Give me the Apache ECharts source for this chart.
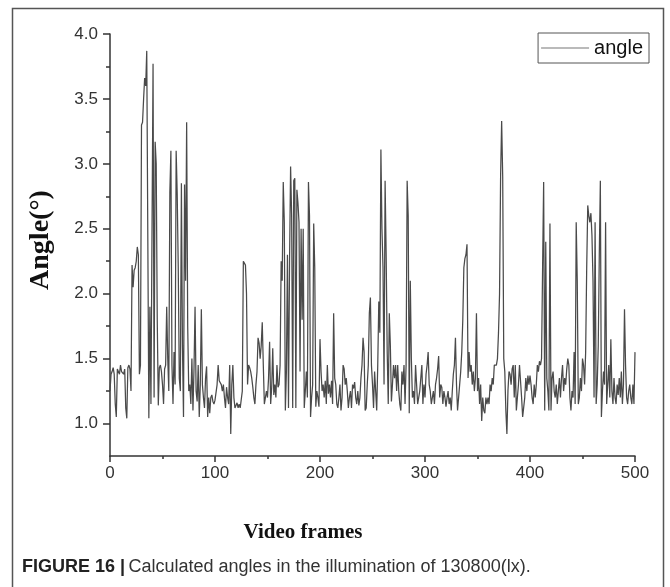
<!DOCTYPE html>
<html>
<head>
<meta charset="utf-8">
<script src="https://cdn.jsdelivr.net/npm/echarts@6/dist/echarts.min.js"></script>
<style>
html,body{margin:0;padding:0;background:#fff;}
#c{width:670px;height:587px;}
</style>
</head>
<body>
<div id="c"></div>
<script>
// Angle values (degrees) per video frame, frames 0..500
const angle000 = [1.25,1.38,1.4,1.43,1.38,1.15,1.05,1.42,1.42,1.38,1.45,1.4,1.4,1.38,1.42,1.12,1.04,1.43,1.45,1.42,1.25,2.22,2.05,2.18,2.2,2.25,2.36,2.3,1.38,1.45,3.3,3.32,3.5,3.66,3.6,3.87,3.86,1.04,1.9,1.15,1.15,3.77,1.2,3.17,3.0,1.8,1.14,1.43,1.45,1.4];
const angle050 = [1.3,1.15,1.42,1.45,1.9,1.5,1.25,2.78,3.1,1.45,1.15,1.55,1.3,3.1,2.77,2.2,1.35,1.25,2.85,1.6,1.05,2.84,2.1,3.32,1.75,1.25,1.3,1.15,1.5,1.1,1.42,1.9,1.25,1.17,1.45,1.05,1.3,1.88,1.3,1.2,1.12,1.35,1.44,1.05,1.2,1.08,1.2,1.22,1.17,1.15];
const angle100 = [1.18,1.17,1.3,1.45,1.33,1.32,1.3,1.25,1.3,1.2,1.12,1.28,1.2,1.15,1.45,0.92,1.3,1.45,1.2,1.12,1.13,1.16,1.12,1.15,1.12,1.12,1.25,2.25,2.25,2.22,2.0,1.3,1.45,1.43,1.4,1.35,1.28,1.2,1.15,1.3,1.4,1.66,1.62,1.5,1.6,1.78,1.45,1.15,1.2,1.25];
const angle150 = [1.2,1.35,1.63,1.15,1.28,1.58,1.22,1.3,1.2,1.45,1.28,1.3,1.45,2.25,2.1,2.86,2.55,1.1,1.4,2.3,1.12,2.24,2.98,2.6,1.12,2.87,2.89,1.12,2.8,2.7,2.55,1.4,2.5,1.8,2.5,1.12,1.25,1.4,1.2,2.86,2.6,1.05,1.2,1.3,2.54,2.2,1.13,1.25,1.2,1.13];
const angle200 = [1.65,1.4,1.25,1.3,1.2,1.33,1.15,1.45,1.23,1.3,1.2,1.33,1.15,1.85,1.35,1.3,1.15,1.12,1.2,1.3,1.1,1.2,1.45,1.42,1.3,1.35,1.25,1.12,1.2,1.25,1.12,1.3,1.27,1.32,1.2,1.15,1.25,1.14,1.2,1.35,1.45,1.66,1.55,1.1,1.12,1.3,1.45,1.85,1.97,1.45];
const angle250 = [1.3,1.12,1.4,1.25,1.1,1.45,1.94,1.7,3.11,2.5,2.2,1.3,2.87,2.3,1.55,1.15,1.85,1.6,1.17,1.3,1.45,1.35,1.45,1.25,1.45,1.25,1.15,1.1,1.4,1.3,1.45,1.15,1.45,2.87,2.6,1.08,2.1,1.5,1.2,1.25,1.15,1.45,1.3,1.15,1.2,1.25,1.35,1.45,1.15,1.3];
const angle300 = [1.2,1.38,1.45,1.55,1.3,1.25,1.15,1.2,1.25,1.15,1.3,1.35,1.42,1.52,1.2,1.3,1.28,1.15,1.25,1.2,1.13,1.2,1.25,1.15,1.2,1.1,1.25,1.38,1.45,1.66,1.3,1.1,1.2,1.3,1.4,1.55,1.8,2.2,2.27,2.3,2.38,1.35,1.55,1.4,1.45,1.3,1.4,1.25,1.35,1.85];
const angle350 = [1.25,1.35,1.15,1.3,1.02,1.2,1.1,1.08,1.2,1.15,1.2,1.15,1.3,1.25,1.35,1.3,1.45,1.45,1.45,1.5,1.7,2.0,2.9,3.33,2.9,1.5,1.4,1.1,0.92,1.25,1.4,1.38,1.3,1.42,1.45,1.2,1.45,1.1,1.2,1.3,1.45,1.45,1.2,1.05,1.05,1.2,1.35,1.25,1.37,1.3];
const angle400 = [1.37,1.3,1.2,1.15,1.3,1.2,1.3,1.45,1.4,1.48,1.45,1.5,2.2,2.86,1.1,2.4,1.35,1.25,1.1,2.54,1.1,1.35,1.4,1.25,1.2,1.3,1.15,1.25,1.35,1.2,1.35,1.45,1.25,1.35,1.3,1.42,1.5,1.45,1.2,1.1,1.25,1.2,1.55,1.15,2.55,2.1,1.15,1.2,1.35,1.25];
const angle450 = [1.5,1.45,1.3,1.55,2.2,2.68,2.6,2.55,2.62,2.45,2.1,1.2,2.55,1.15,1.3,1.6,2.3,2.87,1.05,1.25,1.4,1.3,2.55,1.15,1.3,1.45,1.2,1.65,1.25,1.15,1.35,1.2,1.15,1.3,1.22,1.35,1.2,1.4,1.15,1.3,1.88,1.45,1.2,1.15,1.25,1.3,1.2,1.15,1.3,1.15,1.55];

const angles = [].concat(angle000, angle050, angle100, angle150, angle200, angle250, angle300, angle350, angle400, angle450);
const frames = angles.map((_, i) => i);

const xTicks = [0, 100, 200, 300, 400, 500];
const yMajorTicks = [1.0, 1.5, 2.0, 2.5, 3.0, 3.5, 4.0];
const yMinorTicks = [1.25, 1.75, 2.25, 2.75, 3.25, 3.75];

const seriesName = 'angle';
const xTitle = 'Video frames';
const yTitle = 'Angle(°)';
const captionBold = 'FIGURE 16 |';
const captionText = 'Calculated angles in the illumination of 130800(lx).';

const chart = echarts.init(document.getElementById('c'), null, {renderer: 'canvas'});
const axisColor = '#333';
const labelFont = 'Liberation Sans, Arial, sans-serif';

chart.setOption({
  animation: false,
  backgroundColor: '#fff',
  grid: {left: 110, right: 35, top: 34, bottom: 131, containLabel: false},
  legend: {
    data: [seriesName],
    top: 33, right: 21,
    icon: 'rect', itemWidth: 48, itemHeight: 1.2, itemGap: 0,
    itemStyle: {color: '#777'},
    textStyle: {fontSize: 20, color: '#111', fontFamily: labelFont, padding: [0, 0, 0, 0]},
    borderColor: '#555', borderWidth: 1, borderRadius: 0,
    padding: [5, 6, 5, 3]
  },
  xAxis: {
    type: 'value', min: xTicks[0], max: xTicks[xTicks.length - 1], interval: 100,
    axisLine: {show: true, lineStyle: {color: axisColor, width: 1.5}},
    axisTick: {show: true, length: 6, lineStyle: {color: axisColor, width: 1.5}},
    minorTick: {show: true, splitNumber: 2, length: 3, lineStyle: {color: axisColor, width: 1.5}},
    splitLine: {show: false},
    axisLabel: {fontSize: 17, color: '#333', fontFamily: labelFont, margin: 9}
  },
  yAxis: [{
    type: 'value', min: 0.75, max: 4.0,
    axisLine: {show: true, lineStyle: {color: axisColor, width: 1.5}},
    axisTick: {show: true, length: 7, customValues: yMajorTicks, lineStyle: {color: axisColor, width: 1.5}},
    axisLabel: {customValues: yMajorTicks, fontSize: 17, color: '#333', fontFamily: labelFont, margin: 12,
      formatter: v => v.toFixed(1)},
    splitLine: {show: false}
  }, {
    type: 'value', min: 0.75, max: 4.0, position: 'left',
    axisLine: {show: false},
    axisTick: {show: true, length: 4, customValues: yMinorTicks, lineStyle: {color: axisColor, width: 1.5}},
    axisLabel: {show: false},
    splitLine: {show: false}
  }],
  series: [{
    name: seriesName, type: 'line', yAxisIndex: 0,
    data: frames.map((f, i) => [f, angles[i]]),
    symbol: 'none', showSymbol: false,
    lineStyle: {color: '#4a4a4a', width: 1.25},
    itemStyle: {color: '#777'}
  }],
  graphic: [
    {type: 'rect', shape: {x: 12.5, y: 8.5, width: 651, height: 610}, style: {fill: null, stroke: '#555', lineWidth: 1.5}, silent: true},
    {type: 'text', x: 303, y: 533, style: {text: xTitle, font: 'bold 21px "Liberation Serif", "Times New Roman", serif', fill: '#111', align: 'center', verticalAlign: 'middle'}},
    {type: 'text', x: 41, y: 240, rotation: Math.PI / 2, style: {text: yTitle, font: 'bold 28px "Liberation Serif", "Times New Roman", serif', fill: '#111', align: 'center', verticalAlign: 'middle'}},
    {type: 'text', x: 22, y: 567, style: {
      text: '{b|' + captionBold + '} {n|' + captionText + '}',
      verticalAlign: 'middle',
      rich: {
        b: {font: 'bold 18px "Liberation Sans", Arial, sans-serif', fill: '#222'},
        n: {font: '18px "Liberation Sans", Arial, sans-serif', fill: '#333'}
      }
    }}
  ]
});
</script>
</body>
</html>
